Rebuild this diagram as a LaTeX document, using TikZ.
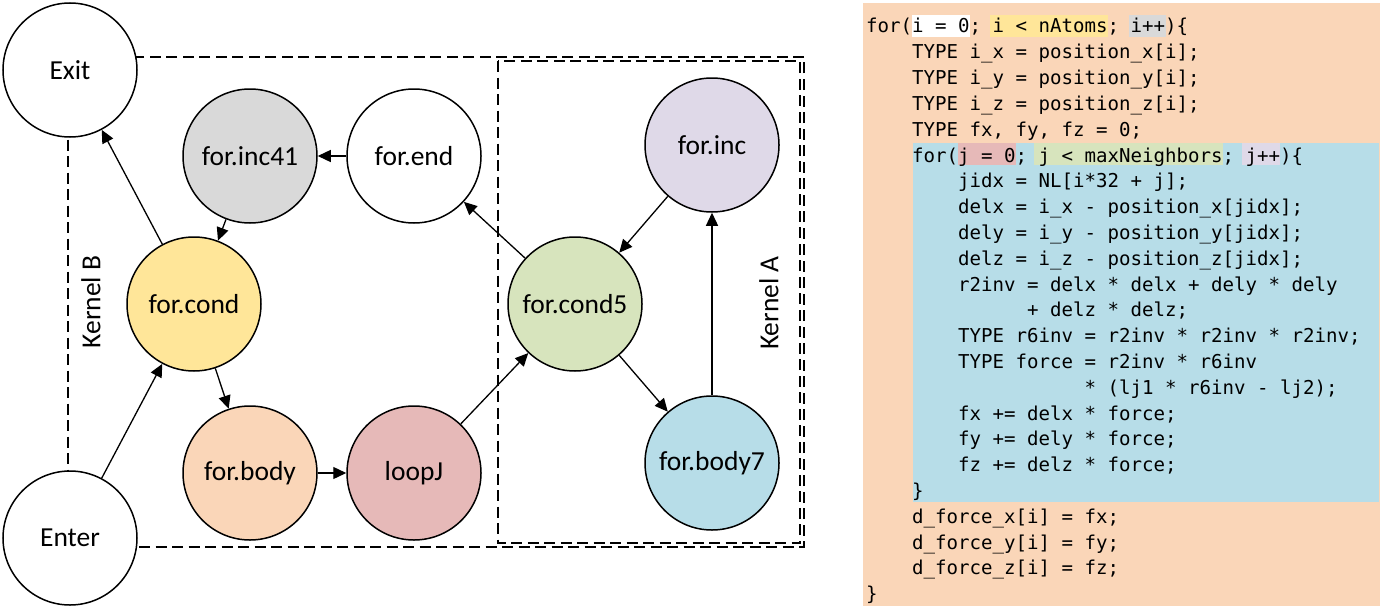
\documentclass[tikz,border=0pt]{standalone}
\usepackage{fontspec}
\setmainfont{Carlito}
\newfontfamily\codefont{DejaVu Sans Mono}
\usetikzlibrary{arrows.meta}
\definecolor{cOrange}{HTML}{FAD6B8}
\definecolor{cBlue}{HTML}{B7DDE8}
\definecolor{cYellow}{HTML}{FFE699}
\definecolor{cGray}{HTML}{D9D9D9}
\definecolor{cRed}{HTML}{E6B9B8}
\definecolor{cGreen}{HTML}{D7E4BD}
\definecolor{cPurple}{HTML}{DFD9E8}
\frenchspacing
\newcommand{\cl}[3]{\node[codeline] (c#1) at ({866+#2*11.5},{33+(#1-1)*25.8}) {#3};}
\begin{document}
\begin{tikzpicture}[x=1pt,y=-1pt,
  blk/.style={circle, draw=black, line width=1.5pt, minimum size=134pt, inner sep=0pt, font=\fontsize{27.5}{30}\selectfont},
  arr/.style={-{Triangle[length=13pt,width=12pt]}, line width=1.3pt},
  kbox/.style={draw=black, line width=1.5pt, dash pattern=on 11pt off 5.5pt},
  klabel/.style={rotate=90, inner sep=0pt, font=\fontsize{27.5}{30}\selectfont},
  codeline/.style={anchor=base west, inner sep=0pt, font=\codefont\fontsize{19.1}{25.8}\selectfont}]
\useasboundingbox (0,0) rectangle (1396,610);

% kernel boxes
\draw[kbox] (68,57) rectangle (804,547);
\draw[kbox] (498,61) rectangle (800,543);
\node[klabel] (kb) at (91,302) {Kernel B};
\node[klabel] (ka) at (769,303) {Kernel A};

% nodes
\node[blk, fill=white] (exit) at (70,70) {Exit};
\node[blk, fill=white] (enter) at (70,538) {Enter};
\node[blk, fill=cGray] (inc41) at (250,156) {for.inc41};
\node[blk, fill=white] (fend) at (414,156) {for.end};
\node[blk, fill=cYellow] (cond) at (194,304) {for.cond};
\node[blk, fill=cOrange] (body) at (250,473) {for.body};
\node[blk, fill=cRed] (loopj) at (414,473) {loopJ};
\node[blk, fill=cGreen] (cond5) at (575,304) {for.cond5};
\node[blk, fill=cPurple] (inc) at (712,145) {for.inc};
\node[blk, fill=cBlue] (body7) at (712,463) {for.body7};

% edges
\draw[arr] (cond) -- (exit);
\draw[arr] (inc41) -- (cond);
\draw[arr] (fend) -- (inc41);
\draw[arr] (enter) -- (cond);
\draw[arr] (cond) -- (body);
\draw[arr] (body) -- (loopj);
\draw[arr] (loopj) -- (cond5);
\draw[arr] (cond5) -- (fend);
\draw[arr] (inc) -- (cond5);
\draw[arr] (cond5) -- (body7);
\draw[arr] (body7) -- (inc);

% code panel
\fill[cOrange] (863,3) rectangle (1380,606);
\fill[cBlue] (913,143) rectangle (1379,502);
\fill[white] (912,15) rectangle (970,37);
\fill[cYellow] (990,15) rectangle (1108,37);
\fill[cGray] (1129,15) rectangle (1166,37);
\fill[cRed] (958,143) rectangle (1016,165);
\fill[cGreen] (1034,143) rectangle (1223,165);
\fill[cPurple] (1242,143) rectangle (1280,165);

\cl{1}{0}{for(i = 0; i < nAtoms; i++)\{}
\cl{2}{4}{TYPE i\_x = position\_x[i];}
\cl{3}{4}{TYPE i\_y = position\_y[i];}
\cl{4}{4}{TYPE i\_z = position\_z[i];}
\cl{5}{4}{TYPE fx, fy, fz = 0;}
\cl{6}{4}{for(j = 0; j < maxNeighbors; j++)\{}
\cl{7}{8}{jidx = NL[i*32 + j];}
\cl{8}{8}{delx = i\_x - position\_x[jidx];}
\cl{9}{8}{dely = i\_y - position\_y[jidx];}
\cl{10}{8}{delz = i\_z - position\_z[jidx];}
\cl{11}{8}{r2inv = delx * delx + dely * dely}
\cl{12}{14}{+ delz * delz;}
\cl{13}{8}{TYPE r6inv = r2inv * r2inv * r2inv;}
\cl{14}{8}{TYPE force = r2inv * r6inv}
\cl{15}{19}{* (lj1 * r6inv - lj2);}
\cl{16}{8}{fx += delx * force;}
\cl{17}{8}{fy += dely * force;}
\cl{18}{8}{fz += delz * force;}
\cl{19}{4}{\}}
\cl{20}{4}{d\_force\_x[i] = fx;}
\cl{21}{4}{d\_force\_y[i] = fy;}
\cl{22}{4}{d\_force\_z[i] = fz;}
\cl{23}{0}{\}}
\end{tikzpicture}
\end{document}
